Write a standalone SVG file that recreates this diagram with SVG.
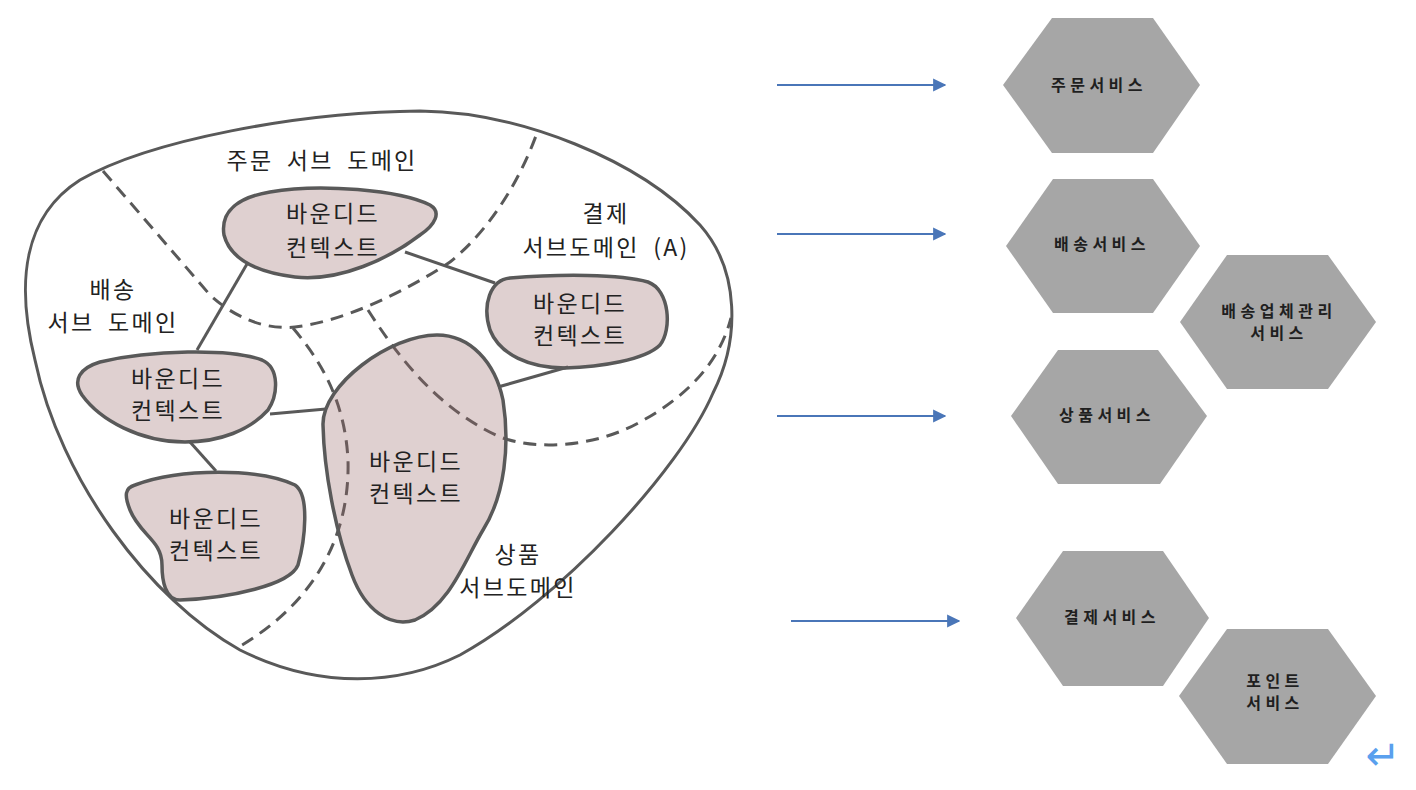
<svg xmlns="http://www.w3.org/2000/svg" width="1416" height="790" viewBox="0 0 1416 790">
  <defs>
    <style>
      .outer { fill: none; stroke: #595959; stroke-width: 3; }
      .dash { fill: none; stroke: #595959; stroke-width: 3; stroke-dasharray: 13 8; }
      .link { fill: none; stroke: #595959; stroke-width: 3; }
      .bc { fill: rgb(148,98,98); fill-opacity: 0.3; stroke: #595959; stroke-width: 3.5; }
      .lbl { font-family: "Noto Sans CJK KR", "Noto Sans", sans-serif; font-size: 23px; fill: #222222; text-anchor: middle; letter-spacing: 2.3px; word-spacing: 6px; }
      .hex { fill: #a6a6a6; }
      .hlbl { font-family: "Noto Sans CJK KR", "Noto Sans", sans-serif; font-size: 16px; font-weight: bold; fill: #1f1f1f; text-anchor: middle; letter-spacing: 4.5px; }
      .arrow { fill: none; stroke: #4a76b8; stroke-width: 2.2; marker-end: url(#ah); }
    </style>
    <marker id="ah" viewBox="0 0 10 10" refX="9" refY="5" markerWidth="6" markerHeight="6" orient="auto" markerUnits="strokeWidth">
      <path d="M0,0 L10,5 L0,10 Z" fill="#4a76b8"/>
    </marker>
  </defs>

  <g id="domain">
    <path class="outer" d="M 420,111 C 520,112 640,160 700,225 C 740,270 740,340 713,393 C 680,470 560,600 460,655 C 400,685 320,690 240,650 C 150,600 60,480 35,360 C 15,280 25,215 80,180 C 150,140 300,112 420,111 Z"/>
  </g>

  <g id="subdomain-boundaries">
    <path class="dash" d="M 103,171 L 210,295 C 235,318 265,330 295,327 C 340,322 400,295 450,262 C 490,230 520,180 537,133"/>
    <path class="dash" d="M 293,328 C 320,360 345,400 348,460 C 350,530 320,600 237,648"/>
    <path class="dash" d="M 368,310 C 400,360 440,410 500,437 C 540,452 600,445 640,422 C 690,395 720,360 731,318"/>
  </g>

  <g id="connectors">
    <line class="link" x1="247" y1="264" x2="197" y2="350"/>
    <line class="link" x1="405" y1="252" x2="495" y2="283"/>
    <line class="link" x1="270" y1="414" x2="326" y2="409"/>
    <line class="link" x1="190" y1="442" x2="216" y2="471"/>
    <line class="link" x1="568" y1="367" x2="498" y2="387"/>
    <line class="arrow" x1="777" y1="85" x2="945" y2="85"/>
    <line class="arrow" x1="777" y1="234" x2="945" y2="234"/>
    <line class="arrow" x1="777" y1="416" x2="945" y2="416"/>
    <line class="arrow" x1="791" y1="621" x2="959" y2="621"/>
  </g>

  <g id="subdomain-labels">
    <text class="lbl" x="322" y="169">주문 서브 도메인</text>
    <text class="lbl" x="606" y="222">결제</text>
    <text class="lbl" x="606" y="256">서브도메인 (A)</text>
    <text class="lbl" x="113" y="298">배송</text>
    <text class="lbl" x="113" y="331">서브 도메인</text>
    <text class="lbl" x="518" y="563">상품</text>
    <text class="lbl" x="518" y="596">서브도메인</text>
  </g>

  <g id="bc-order">
    <path class="bc" d="M 270,192 C 320,183 400,190 430,205 C 442,212 435,225 420,235 C 390,258 340,282 295,277 C 255,272 230,258 224,235 C 220,210 240,197 270,192 Z"/>
    <text class="lbl" x="333" y="222">바운디드</text>
    <text class="lbl" x="333" y="256">컨텍스트</text>
  </g>

  <g id="bc-payment">
    <path class="bc" d="M 510,278 C 560,274 620,274 648,282 C 670,290 672,330 660,345 C 645,360 600,367 565,368 C 530,368 500,355 490,330 C 482,305 490,280 510,278 Z"/>
    <text class="lbl" x="580" y="312">바운디드</text>
    <text class="lbl" x="580" y="344">컨텍스트</text>
  </g>

  <g id="bc-delivery">
    <path class="bc" d="M 100,362 C 150,350 230,348 262,360 C 280,368 278,395 268,410 C 250,430 220,442 185,442 C 140,442 100,420 82,395 C 72,380 80,368 100,362 Z"/>
    <text class="lbl" x="178" y="387">바운디드</text>
    <text class="lbl" x="178" y="419">컨텍스트</text>
  </g>

  <g id="bc-product">
    <path class="bc" d="M 437,335 C 470,335 495,362 503,400 C 510,445 505,495 483,530 C 465,560 450,605 415,620 C 390,628 365,610 352,575 C 335,530 324,470 323,425 C 322,385 390,335 437,335 Z"/>
    <text class="lbl" x="416" y="470">바운디드</text>
    <text class="lbl" x="416" y="502">컨텍스트</text>
  </g>

  <g id="bc-delivery-2">
    <path class="bc" d="M 135,485 C 180,468 260,468 295,485 C 310,495 305,540 298,565 C 290,585 230,598 180,600 C 165,600 162,580 162,565 C 162,540 140,535 130,510 C 124,495 125,488 135,485 Z"/>
    <text class="lbl" x="216" y="527">바운디드</text>
    <text class="lbl" x="216" y="559">컨텍스트</text>
  </g>

  <g id="svc-order">
    <polygon class="hex" points="1052,18 1153,18 1200,85 1153,153 1052,153 1003,85"/>
    <text class="hlbl" x="1099" y="91">주문서비스</text>
  </g>
  <g id="svc-delivery">
    <polygon class="hex" points="1053,179 1153,179 1200,246 1153,313 1053,313 1006,246"/>
    <text class="hlbl" x="1102" y="250">배송서비스</text>
  </g>
  <g id="svc-carrier">
    <polygon class="hex" points="1227,255 1328,255 1376,322 1328,389 1227,389 1180,322"/>
    <text class="hlbl" x="1279" y="317">배송업체관리</text>
    <text class="hlbl" x="1279" y="339">서비스</text>
  </g>
  <g id="svc-product">
    <polygon class="hex" points="1058,350 1158,350 1207,416 1160,484 1058,484 1011,416"/>
    <text class="hlbl" x="1107" y="421">상품서비스</text>
  </g>
  <g id="svc-payment">
    <polygon class="hex" points="1063,551 1163,551 1209,618 1163,686 1063,686 1016,618"/>
    <text class="hlbl" x="1112" y="623">결제서비스</text>
  </g>
  <g id="svc-point">
    <polygon class="hex" points="1227,629 1328,629 1376,696 1328,764 1227,764 1179,696"/>
    <text class="hlbl" x="1275" y="687">포인트</text>
    <text class="hlbl" x="1275" y="709">서비스</text>
  </g>

  <text x="1383" y="770" font-family="DejaVu Sans, sans-serif" font-size="42" fill="#5aa0ee" text-anchor="middle">↵</text>
</svg>
